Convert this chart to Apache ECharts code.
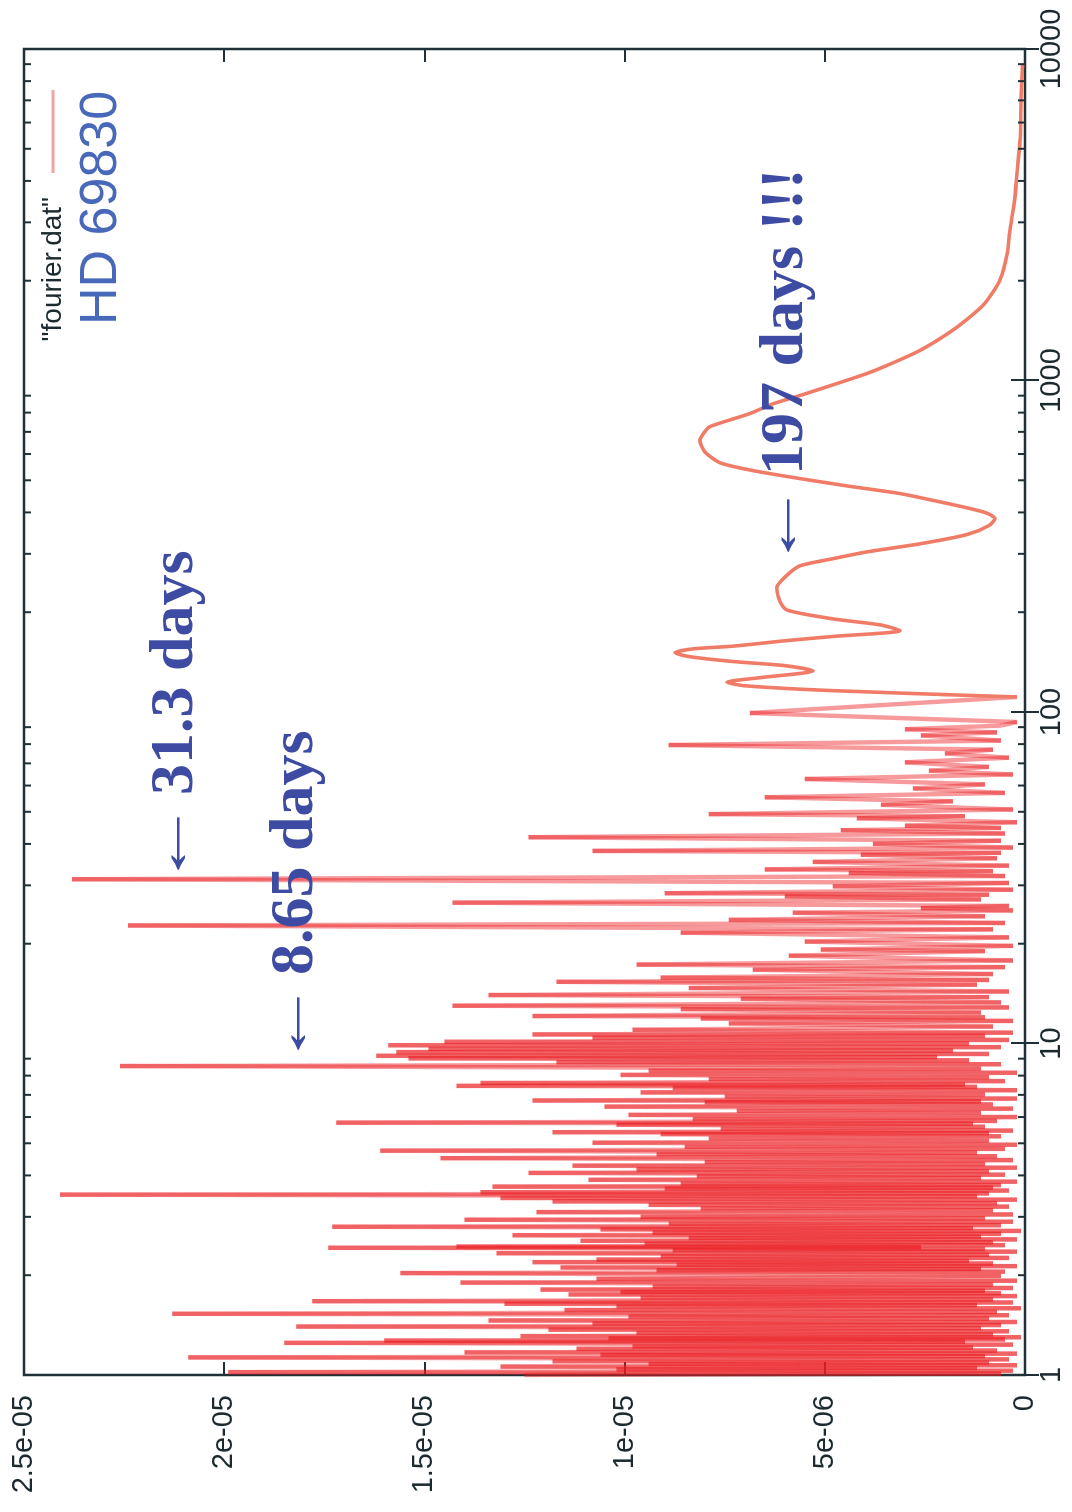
<!DOCTYPE html>
<html>
<head>
<meta charset="utf-8">
<script src="https://cdn.jsdelivr.net/npm/echarts@6/dist/echarts.min.js"></script>
<style>
	html, body { margin:0; padding:0; width:1072px; height:1512px; overflow:hidden; background:#fff; }
	/* gnuplot landscape page turned on its side */
	#chart { position:absolute; left:0; top:0; width:1512px; height:1072px;
		transform-origin:0 0; transform:translate(0px,1512px) rotate(-90deg); }
</style>
</head>
<body>
<div id="chart"></div>

<script type="text/javascript">

	// periods in days, power in units of 1e-6
	var periodsA = [1.00,1.01,1.02,1.03,1.04,1.05,1.06,1.07,1.08,1.09,1.10,1.115,1.13,1.14,1.15,1.16,1.17,1.185,1.20,1.21,1.22,1.235,1.25,1.26,1.27,1.28,1.29,1.30,1.31,1.325,1.34,1.355,1.37,1.385,1.40,1.415,1.43,1.445,1.46,1.48,1.50,1.515,1.53,1.55,1.57,1.59,1.61,1.625,1.64,1.655,1.67,1.69,1.71,1.73,1.75,1.765,1.78,1.795,1.81,1.83,1.85,1.875,1.90,1.925,1.95,1.99];
	var powerA   = [12.5,0.6,19.9,0.3,10.2,1.2,13.1,0.2,9.4,0.9,11.8,0.4,20.9,1.0,10.6,0.2,14.0,0.7,11.2,1.3,9.8,0.3,18.5,1.5,16.0,0.5,10.4,0.1,12.6,0.8,9.7,0.4,11.9,1.1,18.2,0.6,10.8,0.2,13.4,0.9,9.9,0.4,21.3,0.7,11.5,0.1,10.2,1.2,13.0,0.3,17.8,0.8,9.6,0.2,11.4,0.6,10.1,1.0,12.1,0.3,9.3,0.8,14.1,0.2,10.7,0.6];

	var periodsB = [2.03,2.05,2.07,2.09,2.11,2.13,2.15,2.17,2.19,2.21,2.23,2.255,2.28,2.305,2.33,2.355,2.38,2.40,2.42,2.43,2.44,2.465,2.49,2.515,2.54,2.565,2.59,2.615,2.64,2.665,2.69,2.72,2.75,2.775,2.80,2.83,2.86,2.90,2.94,2.97,3.00,3.05,3.10,3.14,3.18,3.22];
	var powerB   = [15.6,0.5,9.2,1.1,11.6,0.2,8.7,0.8,12.3,1.4,10.7,0.4,9.1,0.9,13.2,0.2,8.8,1.0,17.4,2.6,14.2,0.5,9.5,0.8,11.1,0.2,8.4,1.1,12.8,0.6,9.3,0.1,10.6,1.3,17.3,0.6,8.9,0.3,14.0,1.0,9.6,0.3,12.2,0.8,8.1,0.4];

	var periodsC = [3.26,3.30,3.34,3.38,3.42,3.46,3.50,3.53,3.56,3.60,3.65,3.675,3.70,3.74,3.78,3.83,3.88,3.93,3.98,4.02,4.07,4.12,4.17,4.22,4.28,4.33,4.39,4.45,4.51,4.57,4.63,4.69,4.75,4.81,4.88,4.95,5.02,5.09,5.17];
	var powerC   = [9.4,0.7,11.8,0.2,13.1,1.2,24.1,0.9,13.6,0.4,9.0,0.8,13.3,0.6,8.6,0.2,10.9,1.1,8.2,0.5,12.4,0.9,9.7,0.2,11.3,1.0,8.0,0.3,14.6,0.7,9.2,1.2,16.1,0.5,8.5,0.2,10.8,0.9,7.9];

	var periodsD = [5.25,5.33,5.365,5.40,5.46,5.53,5.61,5.69,5.73,5.77,5.84,5.92,6.00,6.09,6.18,6.27,6.36,6.45,6.55,6.65,6.69,6.73,6.82,6.92,7.02,7.12,7.23,7.34,7.40,7.45,7.52,7.60,7.70,7.81,7.92,8.04,8.16,8.28,8.40,8.55,8.66,8.78,8.90,9.02,9.10,9.18,9.30,9.42,9.52,9.63,9.75,9.88,10.00,10.12,10.25,10.40,10.55,10.65,10.78];
	var powerD   = [0.6,9.1,0.9,11.8,0.3,7.6,1.0,10.2,1.3,17.2,0.7,8.3,0.2,9.9,1.1,7.2,0.3,10.5,0.8,8.0,1.1,12.3,0.2,7.5,1.0,9.6,0.2,8.8,1.2,14.2,1.5,13.6,0.5,7.9,0.9,10.1,0.2,9.4,1.1,22.6,0.6,11.7,1.4,15.4,2.2,16.2,0.9,15.7,1.8,14.9,0.6,15.9,1.4,14.5,0.4,10.8,1.0,12.3,0.3];

	var periodsE = [11.0,11.25,11.5,11.7,11.9,12.0,12.1,12.4,12.7,12.85,13.0,13.3,13.65,13.8,14.0,14.35,14.7,15.05,15.35,15.55,15.8,16.2,16.7,17.0,17.3,17.8,18.4,19.0,19.2,19.7,20.3,20.9];
	var powerE   = [9.8,0.8,7.4,0.3,8.1,1.0,12.3,1.1,8.6,0.4,14.3,0.6,7.1,0.9,13.4,0.4,8.4,1.2,11.7,0.9,9.1,0.8,6.8,0.5,9.7,0.3,5.9,1.0,5.1,0.3,5.5,0.4];

	var periodsF = [21.6,22.1,22.7,23.1,23.6,24.2,24.8,25.2,25.6,26.0,26.6,27.2,27.8,28.1,28.4,29.1,29.8,30.5,31.3,32.0,32.7,33.1,33.5,34.4,35.3,36.2,37.1,37.6,38.1,39.0,40.0,40.9,41.9,43.0,44.0,44.7,45.4,46.5];
	var powerF   = [8.6,0.8,22.4,0.5,7.4,1.0,5.8,0.3,2.6,0.4,14.3,1.1,6.0,0.9,9.0,0.3,4.8,0.4,23.8,0.5,4.4,0.8,6.5,0.4,5.3,0.7,4.1,0.6,10.8,0.3,3.8,0.6,12.4,0.5,4.6,0.6,3.0,0.2];

	var periodsG = [47.8,48.5,49.2,50.8,52.5,53.8,55.3,57.0,58.8,60.5,62.8,64.8,66.5,68.3,70.5,72.8,75.0,77.0,79.5,82.0,85.0,86.8,88.7,91.0,93.3,99.3,111];
	var powerG   = [4.2,1.5,7.9,0.3,3.6,1.8,6.5,0.5,2.8,1.0,5.5,0.3,2.4,0.9,3.0,0.4,2.0,0.8,8.9,0.6,2.6,0.7,3.0,0.6,0.2,6.87,0.2];

	// long-period part, smooth
	var periodsT = [111,116,120,123,127,133,138,142,147,151,155,158,164,169,176,183,191,203,216,237,259,276,290,304,322,343,365,383,398,413,435,456,480,506,535,565,610,659,700,726,795,850,901,970,1050,1130,1233,1380,1528,1710,2018,2400,2877,3500,4250,5380,7110,9000];
	var powerT   = [0.2,4.8,7.0,7.44,6.6,5.29,6.0,7.29,8.4,8.74,8.3,7.29,6.0,4.8,3.12,3.6,4.8,5.94,6.12,6.2,5.94,5.62,4.8,3.95,2.6,1.45,0.9,0.75,0.95,1.45,2.3,3.12,4.4,5.62,6.8,7.62,8.0,8.12,8.0,7.87,6.87,6.3,5.62,4.8,3.95,3.3,2.62,1.95,1.45,1.0,0.62,0.45,0.37,0.26,0.2,0.12,0.1,0.06];

	var xTickLabels = ['1','10','100','1000','10000'];
	var yTickLabels = ['0','5e-06','1e-05','1.5e-05','2e-05','2.5e-05'];
	var minorTickVals = [2,3,4,5,6,7,8,9,20,30,40,50,60,70,80,90,200,300,400,500,600,700,800,900,2000,3000,4000,5000,6000,7000,8000,9000];

	var legendName = '"fourier.dat"';
	var axisColor = '#1f3036';
	var noteBlue = '#3d4ba3';
	var keyPink = '#f4a3a3';
	var serif = '"Liberation Serif", "DejaVu Serif", serif';

	function pairs(ps, vs) {
		var out = [];
		for (var i = 0; i < ps.length && i < vs.length; i++) out.push([ps[i], vs[i]]);
		return out;
	}

	var noise = [].concat(
		pairs(periodsA, powerA), pairs(periodsB, powerB), pairs(periodsC, powerC),
		pairs(periodsD, powerD), pairs(periodsE, powerE), pairs(periodsF, powerF),
		pairs(periodsG, powerG)
	);
	var tail = pairs(periodsT, powerT);

	// one segment per element so overlapping strokes build up like the print
	var noiseSegs = [];
	for (var i = 0; i < noise.length - 1; i++) {
		noiseSegs.push({ coords: [noise[i], noise[i + 1]] });
	}

	// the arrow glyph is stretched; x is shifted so its ink starts where wanted
	function arrowText(x, y) {
		return { type: 'text', x: x - 18, y: y, z: 10, scaleX: 1.53, scaleY: 1,
			style: { text: '\u2190', font: 'normal 58px ' + serif, fill: noteBlue, textVerticalAlign: 'middle', verticalAlign: 'middle' } };
	}
	function noteText(x, y, s) {
		return { type: 'text', x: x, y: y, z: 10,
			style: { text: s, font: 'bold 62px ' + serif, fill: noteBlue, textVerticalAlign: 'middle', verticalAlign: 'middle' } };
	}

	var chart = echarts.init(document.getElementById('chart'));
	chart.setOption({
		animation: false,
		backgroundColor: '#fff',
		grid: {
			left: 137, right: 49, top: 24, bottom: 47,
			show: true, borderColor: axisColor, borderWidth: 2.5, backgroundColor: 'transparent'
		},
		legend: {
			data: [{ name: legendName, icon: 'rect' }],
			right: 90, top: 39, padding: 0,
			align: 'right', itemWidth: 83, itemHeight: 3,
			selectedMode: false,
			itemStyle: { color: keyPink, borderWidth: 0 },
			lineStyle: { color: keyPink },
			textStyle: { fontFamily: 'Liberation Sans', fontSize: 28, color: '#1c2a30', padding: [0, 19, 0, 0] }
		},
		xAxis: [
			{
				type: 'log', logBase: 10, min: 1, max: 10000, splitNumber: 4,
				axisLine: { show: false },
				axisTick: { inside: true, length: 14, lineStyle: { color: axisColor, width: 2 } },
				axisLabel: {
					margin: 12, fontFamily: 'Liberation Sans', fontSize: 29, color: '#1c2a30',
					showMinLabel: true, showMaxLabel: true,
					formatter: function (v) { return xTickLabels[Math.round(Math.log10(v))]; }
				},
				splitLine: { show: false }
			},
			{
				type: 'log', logBase: 10, min: 1, max: 10000, splitNumber: 4, position: 'top',
				axisLine: { show: false },
				axisTick: { inside: true, length: 14, lineStyle: { color: axisColor, width: 2 } },
				axisLabel: { show: false },
				splitLine: { show: false }
			}
		],
		yAxis: [
			{
				type: 'value', min: 0, max: 25, interval: 5,
				axisLine: { show: false },
				axisTick: { inside: true, length: 13, lineStyle: { color: axisColor, width: 2 } },
				axisLabel: {
					margin: 20, fontFamily: 'Liberation Sans', fontSize: 29, color: '#1c2a30',
					showMinLabel: true, showMaxLabel: true,
					formatter: function (v) { return yTickLabels[Math.round(v / 5)]; }
				},
				splitLine: { show: false }
			},
			{
				type: 'value', min: 0, max: 25, interval: 5, position: 'right',
				axisLine: { show: false },
				axisTick: { inside: true, length: 13, lineStyle: { color: axisColor, width: 2 } },
				axisLabel: { show: false },
				splitLine: { show: false }
			}
		],
		series: [
			{
				name: 'fourier noise', type: 'lines', coordinateSystem: 'cartesian2d',
				xAxisIndex: 0, yAxisIndex: 0,
				data: noiseSegs, silent: true, z: 2,
				lineStyle: { color: 'rgb(236,30,36)', opacity: 0.45, width: 4.4, curveness: 0 }
			},
			{
				name: legendName, type: 'line', xAxisIndex: 0, yAxisIndex: 0,
				data: tail, symbol: 'none', silent: true, z: 3,
				smooth: 0.25,
				lineStyle: { color: '#f07c68', width: 3.6, join: 'round' }
			},
			{
				name: 'minor ticks', type: 'custom', xAxisIndex: 0, yAxisIndex: 0,
				data: minorTickVals.map(function (v) { return [v, 0]; }),
				encode: { x: 0, y: 1 }, silent: true, clip: false, z: 5,
				renderItem: function (params, api) {
					var b = api.coord([api.value(0), 0]);
					var t = api.coord([api.value(0), 25]);
					return {
						type: 'group',
						children: [
							{ type: 'line', shape: { x1: b[0], y1: b[1], x2: b[0], y2: b[1] - 7 }, style: { stroke: axisColor, lineWidth: 2 } },
							{ type: 'line', shape: { x1: t[0], y1: t[1], x2: t[0], y2: t[1] + 7 }, style: { stroke: axisColor, lineWidth: 2 } }
						]
					};
				}
			}
		],
		graphic: [
			{ type: 'text', x: 1187, y: 102, z: 10, style: { text: 'HD 69830', font: 'normal 52px "Liberation Sans"', fill: '#4869b9', textVerticalAlign: 'middle', verticalAlign: 'middle' } },
			arrowText(642, 173), noteText(717, 176, '31.3 days'),
			arrowText(462, 293), noteText(537, 296, '8.65 days'),
			arrowText(960, 783), noteText(1037, 786, '197 days !!!')
		]
	});

</script>
</body>
</html>
